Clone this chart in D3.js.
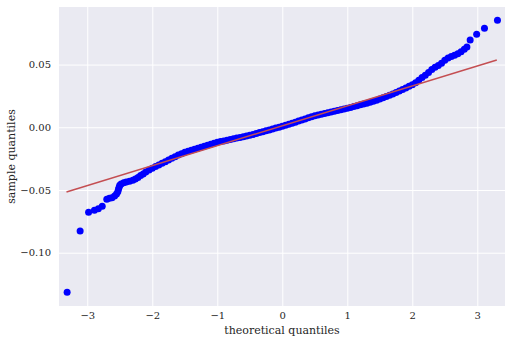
<!DOCTYPE html>
<html>
<head>
<meta charset="utf-8">
<script src="https://cdn.jsdelivr.net/npm/d3@7"></script>
<style>
  body { margin: 0; background: #fff; }
  text { font-family: "DejaVu Serif", serif; fill: #262626; }
</style>
</head>
<body>
<div id="chart"></div>
<script>
// theoretical quantiles (x) and sample quantiles (y)
var theoQ = [
  -3.31, -3.11, -2.98, -2.89, -2.83, -2.77, -2.70, -2.66, -2.62, -2.58,
  -2.55, -2.53, -2.52, -2.51, -2.50, -2.48, -2.44, -2.40, -2.35, -2.30,
  -2.26, -2.22, -2.18, -2.14, -2.10, -2.05, -2.00, -1.95, -1.90, -1.85,
  -1.80, -1.75, -1.70, -1.65, -1.60, -1.55, -1.50, -1.45, -1.40, -1.35,
  -1.30, -1.25, -1.20, -1.15, -1.10, -1.05, -1.00, -0.95, -0.90, -0.85,
  -0.80, -0.75, -0.70, -0.65, -0.60, -0.55, -0.50, -0.45, -0.40, -0.35,
  -0.30, -0.25, -0.20, -0.15, -0.10, -0.05, 0.00, 0.05, 0.10, 0.15,
  0.20, 0.25, 0.30, 0.35, 0.40, 0.45, 0.50, 0.55, 0.60, 0.65,
  0.70, 0.75, 0.80, 0.85, 0.90, 0.95, 1.00, 1.05, 1.10, 1.15,
  1.20, 1.25, 1.30, 1.35, 1.40, 1.45, 1.50, 1.55, 1.60, 1.65,
  1.70, 1.75, 1.80, 1.85, 1.90, 1.95, 2.00, 2.05, 2.10, 2.15,
  2.20, 2.25, 2.30, 2.35, 2.40, 2.45, 2.50, 2.55, 2.60, 2.65,
  2.70, 2.75, 2.80, 2.84, 2.89, 2.99, 3.11, 3.31
];
var sampleQ = [
  -0.1316, -0.0827, -0.0678, -0.0662, -0.0649, -0.0630, -0.0574, -0.0566, -0.0561, -0.0548,
  -0.0532, -0.0515, -0.0495, -0.0478, -0.0462, -0.0452, -0.0442, -0.0436, -0.0430, -0.0423,
  -0.0412, -0.0400, -0.0385, -0.0372, -0.0357, -0.0340, -0.0327, -0.0312, -0.0300, -0.0287,
  -0.0274, -0.0260, -0.0246, -0.0234, -0.0222, -0.0211, -0.0200, -0.0191, -0.0184, -0.0176,
  -0.0168, -0.0160, -0.0152, -0.0144, -0.0136, -0.0128, -0.0120, -0.0114, -0.0109, -0.0103,
  -0.0098, -0.0092, -0.0086, -0.0081, -0.0075, -0.0070, -0.0064, -0.0057, -0.0050, -0.0042,
  -0.0035, -0.0028, -0.0021, -0.0014, -0.0006, 0.0001, 0.0008, 0.0016, 0.0025, 0.0033,
  0.0041, 0.0050, 0.0058, 0.0066, 0.0075, 0.0083, 0.0091, 0.0097, 0.0103, 0.0109,
  0.0115, 0.0121, 0.0127, 0.0133, 0.0139, 0.0145, 0.0151, 0.0158, 0.0165, 0.0172,
  0.0179, 0.0185, 0.0192, 0.0199, 0.0207, 0.0216, 0.0226, 0.0236, 0.0246, 0.0256,
  0.0266, 0.0278, 0.0290, 0.0302, 0.0314, 0.0327, 0.0340, 0.0355, 0.0375, 0.0396,
  0.0415, 0.0437, 0.0460, 0.0478, 0.0492, 0.0510, 0.0535, 0.0552, 0.0564, 0.0575,
  0.0587, 0.0602, 0.0622, 0.0640, 0.0696, 0.0742, 0.0790, 0.0853
];

// fitted reference line endpoints
var lineX = [-3.32, 3.30];
var lineY = [-0.0516, 0.0537];

var xTicks = [-3, -2, -1, 0, 1, 2, 3];
var yTicks = [-0.10, -0.05, 0.00, 0.05];

var svgWidth = 512;
var svgHeight = 343;
var margin = { top: 7, right: 7, bottom: 37, left: 59 };
var width = svgWidth - margin.left - margin.right;
var height = svgHeight - margin.top - margin.bottom;

var svg = d3.select("#chart")
  .append("svg")
  .attr("width", svgWidth)
  .attr("height", svgHeight);

var chartGroup = svg.append("g")
  .attr("transform", `translate(${margin.left}, ${margin.top})`);

var xScale = d3.scaleLinear().domain([-3.435, 3.426]).range([0, width]);
var yScale = d3.scaleLinear().domain([-0.1425, 0.0959]).range([height, 0]);

// background
chartGroup.append("rect")
  .attr("width", width)
  .attr("height", height)
  .attr("fill", "#EAEAF2");

// grid + tick labels via axes
var xAxis = chartGroup.append("g")
  .attr("transform", `translate(0, ${height})`)
  .call(d3.axisBottom(xScale).tickValues(xTicks).tickSize(-height).tickPadding(6).tickFormat(d3.format("d")));

var yAxis = chartGroup.append("g")
  .call(d3.axisLeft(yScale).tickValues(yTicks).tickSize(-width).tickPadding(8).tickFormat(d3.format(".2f")));

[xAxis, yAxis].forEach(function(ax) {
  ax.select(".domain").remove();
  ax.selectAll(".tick line").attr("stroke", "#fff").attr("stroke-width", 1);
  ax.selectAll(".tick text").attr("font-size", "10px").attr("fill", "#262626")
    .style("font-family", "'DejaVu Serif', serif");
});

var points = theoQ.map((t, i) => ({ x: t, y: sampleQ[i] }));

chartGroup.selectAll("circle")
  .data(points)
  .enter()
  .append("circle")
  .attr("cx", d => xScale(d.x))
  .attr("cy", d => yScale(d.y))
  .attr("r", 3.5)
  .attr("fill", "#0000FF");

var line = d3.line().x(d => xScale(d[0])).y(d => yScale(d[1]));
chartGroup.append("path")
  .datum(lineX.map((v, i) => [v, lineY[i]]))
  .attr("d", line)
  .attr("fill", "none")
  .attr("stroke", "#C44E52")
  .attr("stroke-width", 1.5);

// axis labels
chartGroup.append("text")
  .attr("x", width / 2)
  .attr("y", height + 28)
  .attr("text-anchor", "middle")
  .attr("font-size", "11px")
  .text("theoretical quantiles");

chartGroup.append("text")
  .attr("transform", "rotate(-90)")
  .attr("x", -height / 2)
  .attr("y", -48)
  .attr("dy", "0.35em")
  .attr("text-anchor", "middle")
  .attr("font-size", "11px")
  .text("sample quantiles");
</script>
</body>
</html>
